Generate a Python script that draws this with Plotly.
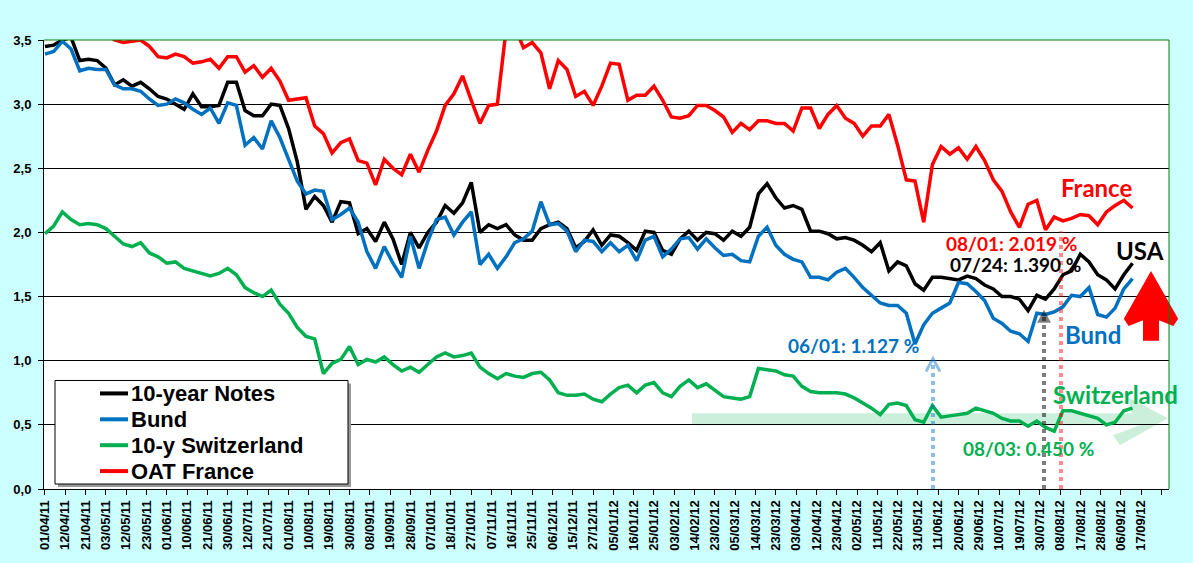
import pandas as pd
import plotly.graph_objects as go

# --- DATA (one value every 3 trading sessions) ---
START = "2011-04-01"
SKIPPED_DAYS = ["2011-04-22", "2011-07-04", "2011-12-26"]
STEP = 3

US_10Y = [
    3.45, 3.46, 3.50, 3.52, 3.34, 3.35, 3.34, 3.28, 3.15, 3.19, 3.14, 3.17,
    3.12, 3.06, 3.04, 3.00, 2.96, 3.08, 2.98, 2.98, 2.99, 3.17, 3.17, 2.95,
    2.91, 2.91, 3.00, 2.99, 2.81, 2.55, 2.18, 2.28, 2.21, 2.08,
    2.24, 2.23, 1.99, 2.03, 1.93, 2.08, 1.95, 1.75, 2.00, 1.88, 2.00, 2.08,
    2.21, 2.15, 2.23, 2.39, 2.00, 2.06, 2.03, 2.06, 1.98, 1.94, 1.94, 2.03,
    2.06, 2.08, 2.03, 1.88, 1.93, 2.02, 1.90, 1.98, 1.97,
    1.92, 1.86, 2.01, 2.00, 1.86, 1.83, 1.95, 2.01, 1.94, 2.00, 1.99, 1.94,
    2.01, 1.97, 2.04, 2.30, 2.38, 2.27, 2.19, 2.21, 2.18, 2.01, 2.01, 1.99,
    1.95, 1.96, 1.94, 1.90, 1.85, 1.92, 1.70, 1.77, 1.74,
    1.60, 1.55, 1.65, 1.65, 1.64, 1.63, 1.66, 1.64, 1.59, 1.56, 1.50, 1.50,
    1.48, 1.39, 1.51, 1.48, 1.56, 1.67, 1.70, 1.83, 1.77, 1.67, 1.63, 1.56,
    1.67, 1.76,
]
BUND = [
    3.39, 3.41, 3.49, 3.43, 3.26, 3.28, 3.27, 3.27, 3.15, 3.12, 3.12, 3.10,
    3.04, 2.99, 3.00, 3.04, 3.01, 2.96, 2.92, 2.97, 2.85, 3.01, 2.99, 2.68,
    2.74, 2.65, 2.87, 2.74, 2.57, 2.40, 2.30, 2.33, 2.32, 2.10,
    2.14, 2.19, 2.08, 1.85, 1.72, 1.89, 1.76, 1.65, 1.97, 1.72, 1.93, 2.10,
    2.12, 1.98, 2.08, 2.16, 1.75, 1.83, 1.72, 1.81, 1.92, 1.95, 2.01, 2.24,
    2.06, 2.07, 2.01, 1.85, 1.94, 1.93, 1.85, 1.92, 1.85,
    1.90, 1.78, 1.94, 1.97, 1.81, 1.87, 1.95, 1.96, 1.87, 1.95, 1.88, 1.82,
    1.83, 1.78, 1.77, 1.97, 2.04, 1.90, 1.83, 1.79, 1.77, 1.65, 1.65, 1.63,
    1.69, 1.72, 1.65, 1.57, 1.51, 1.45, 1.43, 1.43, 1.37,
    1.13, 1.28, 1.37, 1.41, 1.45, 1.61, 1.60, 1.54, 1.47, 1.33, 1.29, 1.23,
    1.21, 1.15, 1.37, 1.36, 1.38, 1.42, 1.51, 1.50, 1.57, 1.36, 1.34, 1.41,
    1.56, 1.64,
]
SWISS_10Y = [
    1.99, 2.05, 2.16, 2.10, 2.06, 2.07, 2.06, 2.03, 1.97, 1.91, 1.89, 1.92,
    1.84, 1.81, 1.76, 1.77, 1.72, 1.70, 1.68, 1.66, 1.68, 1.72, 1.67, 1.57,
    1.53, 1.50, 1.55, 1.44, 1.37, 1.26, 1.19, 1.17, 0.90, 0.98,
    1.01, 1.11, 0.97, 1.01, 0.99, 1.03, 0.97, 0.92, 0.95, 0.91, 0.97, 1.03,
    1.06, 1.03, 1.04, 1.06, 0.95, 0.90, 0.86, 0.90, 0.88, 0.87, 0.90, 0.91,
    0.85, 0.75, 0.73, 0.73, 0.74, 0.70, 0.68, 0.74, 0.79,
    0.81, 0.75, 0.81, 0.83, 0.75, 0.72, 0.80, 0.85, 0.79, 0.82, 0.77, 0.72,
    0.71, 0.70, 0.72, 0.94, 0.93, 0.92, 0.89, 0.88, 0.80, 0.76, 0.75, 0.75,
    0.75, 0.74, 0.71, 0.67, 0.63, 0.58, 0.66, 0.67, 0.65,
    0.54, 0.52, 0.65, 0.56, 0.57, 0.58, 0.59, 0.63, 0.61, 0.59, 0.55, 0.53,
    0.53, 0.49, 0.53, 0.48, 0.45, 0.61, 0.61, 0.59, 0.57, 0.55, 0.50, 0.52,
    0.61, 0.63,
]
OAT_FRANCE = [
    3.62, 3.66, 3.70, 3.66, 3.60, 3.62, 3.58, 3.55, 3.50, 3.48, 3.49, 3.50,
    3.45, 3.37, 3.36, 3.39, 3.37, 3.32, 3.33, 3.35, 3.28, 3.37, 3.37, 3.25,
    3.30, 3.21, 3.28, 3.18, 3.03, 3.04, 3.05, 2.83, 2.77, 2.62,
    2.70, 2.73, 2.56, 2.54, 2.37, 2.57, 2.50, 2.45, 2.61, 2.47, 2.64, 2.79,
    2.99, 3.08, 3.22, 3.03, 2.85, 2.99, 3.00, 3.58, 3.60, 3.44, 3.48, 3.40,
    3.12, 3.34, 3.27, 3.06, 3.10, 2.99, 3.14, 3.32, 3.31,
    3.03, 3.07, 3.07, 3.14, 3.03, 2.90, 2.89, 2.91, 2.99, 2.99, 2.95, 2.90,
    2.78, 2.85, 2.80, 2.87, 2.87, 2.85, 2.85, 2.79, 2.97, 2.97, 2.81, 2.92,
    2.99, 2.89, 2.85, 2.75, 2.83, 2.83, 2.92, 2.68, 2.41,
    2.40, 2.08, 2.53, 2.67, 2.61, 2.66, 2.57, 2.67, 2.56, 2.41, 2.32, 2.16,
    2.04, 2.22, 2.25, 2.02, 2.12, 2.09, 2.11, 2.14, 2.13, 2.06, 2.16, 2.21,
    2.25, 2.19,
]

TICK_LABELS = [
    "01/04/11", "12/04/11", "21/04/11", "03/05/11", "12/05/11", "23/05/11",
    "01/06/11", "10/06/11", "21/06/11", "30/06/11", "12/07/11", "21/07/11",
    "01/08/11", "10/08/11", "19/08/11", "30/08/11", "08/09/11", "19/09/11",
    "28/09/11", "07/10/11", "18/10/11", "27/10/11", "07/11/11", "16/11/11",
    "25/11/11", "06/12/11", "15/12/11", "27/12/11", "05/01/12", "16/01/12",
    "25/01/12", "03/02/12", "14/02/12", "23/02/12", "05/03/12", "14/03/12",
    "23/03/12", "03/04/12", "12/04/12", "23/04/12", "02/05/12", "11/05/12",
    "22/05/12", "31/05/12", "11/06/12", "20/06/12", "29/06/12", "10/07/12",
    "19/07/12", "30/07/12", "08/08/12", "17/08/12", "28/08/12", "06/09/12",
    "17/09/12",
]
LAST_TICK = "26/09/12"  # tick mark drawn without a label

SERIES = [
    ("10-year Notes", US_10Y, "#000000"),
    ("Bund", BUND, "#0070C0"),
    ("10-y Switzerland", SWISS_10Y, "#00B050"),
    ("OAT France", OAT_FRANCE, "#FF0000"),
]

# --- trading calendar (weekends + the few missing sessions) ---
cal = pd.bdate_range(start=START, end="2012-09-30", freq="C", holidays=SKIPPED_DAYS)
dates = cal[::STEP][:len(US_10Y)]

tick_vals = pd.to_datetime(TICK_LABELS + [LAST_TICK], format="%d/%m/%y")
tick_text = TICK_LABELS + [""]

# plot area in page pixels, used to place the decorations
L, R, T, B = 44, 1169, 40, 491


def px(x):
    return (x - L) / (R - L)


def py(y):
    return (B - y) / (B - T)


def path(points, close=True):
    d = "M " + " L ".join(f"{px(a):.5f},{py(b):.5f}" for a, b in points)
    return d + " Z" if close else d


fig = go.Figure()
for name, vals, color in SERIES:
    fig.add_trace(go.Scatter(x=dates, y=vals, name=name, mode="lines",
                             line=dict(color=color, width=3.5), showlegend=False))

ann_font = "Lato, Open Sans, sans-serif"
labels = [
    ("France", 1096, 188, "#FF0000", 24),
    ("USA", 1140, 251, "#000000", 24),
    ("Bund", 1093, 336, "#0070C0", 24),
    ("Switzerland", 1115, 396, "#00B050", 24),
    ("08/01: 2.019 %", 1011, 244, "#FF0000", 19),
    ("07/24: 1.390 %", 1015, 265, "#000000", 19),
    ("06/01: 1.127 %", 853, 347, "#0070C0", 19),
    ("08/03: 0.450 %", 1028, 450, "#00B050", 19),
]
for text, x, y, color, size in labels:
    fig.add_annotation(text=text, xref="paper", yref="paper", x=px(x), y=py(y),
                       xanchor="center", yanchor="middle", showarrow=False,
                       font=dict(family=ann_font, size=size, color=color, weight="bold"))

shapes = []
# pale green trend arrow under the Swiss yield
shapes.append(dict(type="path", xref="paper", yref="paper", layer="below",
                   path=path([(692, 415), (1132, 415), (1127, 398), (1168, 420),
                              (1120, 447), (1113, 437), (1140, 427), (692, 427)]),
                   fillcolor="rgba(0,176,80,0.2)", line=dict(width=0)))
# dotted markers
for x, ytop, color in [(933, 362, "rgba(0,112,192,0.45)"),
                       (1044, 318, "rgba(0,0,0,0.5)"),
                       (1061, 232, "rgba(255,0,0,0.45)")]:
    shapes.append(dict(type="line", xref="paper", yref="paper", layer="above",
                       x0=px(x), x1=px(x), y0=py(B), y1=py(ytop),
                       line=dict(color=color, width=4, dash="dot")))
shapes.append(dict(type="path", xref="paper", yref="paper", layer="above",
                   path=path([(926, 373), (933, 360), (940, 373)], close=False),
                   line=dict(color="rgba(0,112,192,0.45)", width=3)))
shapes.append(dict(type="path", xref="paper", yref="paper", layer="above",
                   path=path([(1037, 324), (1044, 311), (1051, 324)]),
                   fillcolor="rgba(0,0,0,0.5)", line=dict(width=0)))
# big red arrow
shapes.append(dict(type="path", xref="paper", yref="paper", layer="above",
                   path=path([(1151, 274), (1177, 320), (1173, 326), (1158, 320),
                              (1158, 341), (1144, 341), (1144, 320), (1129, 326),
                              (1125, 320)]),
                   fillcolor="#FF0000", line=dict(color="#FF0000", width=2)))
# legend box with shadow
shapes.append(dict(type="rect", xref="paper", yref="paper", layer="above",
                   x0=px(58), x1=px(351), y0=py(489), y1=py(385),
                   fillcolor="#9a9a9a", line=dict(width=0)))
shapes.append(dict(type="rect", xref="paper", yref="paper", layer="above",
                   x0=px(55), x1=px(348), y0=py(486), y1=py(382),
                   fillcolor="white", line=dict(color="black", width=1)))
# legend entries
for i, (name, vals, color) in enumerate(SERIES):
    y = 395 + 26 * i
    shapes.append(dict(type="line", xref="paper", yref="paper", layer="above",
                       x0=px(100), x1=px(128), y0=py(y), y1=py(y),
                       line=dict(color=color, width=4)))
    fig.add_annotation(text=name, xref="paper", yref="paper", x=px(129), y=py(y),
                       xanchor="left", yanchor="middle", showarrow=False,
                       font=dict(family="Liberation Sans, Arial", size=22,
                                 color="black", weight="bold"))
# green frame on top and right
shapes.append(dict(type="line", xref="paper", yref="paper", x0=0, x1=1, y0=1, y1=1,
                   line=dict(color="#008000", width=1)))
shapes.append(dict(type="line", xref="paper", yref="paper", x0=1, x1=1, y0=0, y1=1,
                   line=dict(color="#008000", width=1)))

tick_font = dict(family="Liberation Sans, Arial", size=13, color="black", weight="bold")

fig.update_layout(
    width=1193, height=563,
    margin=dict(l=L, r=1193 - R, t=T, b=563 - B),
    paper_bgcolor="#CCFFFF",
    plot_bgcolor="white",
    separators=",.",
    shapes=shapes,
    showlegend=False,
    xaxis=dict(
        range=["2011-03-31 16:00", "2012-09-28 14:00"],
        rangebreaks=[dict(bounds=["sat", "mon"]), dict(values=SKIPPED_DAYS)],
        tickmode="array", tickvals=tick_vals, ticktext=tick_text,
        tickangle=-90, tickfont=tick_font,
        showgrid=False, showline=True, linecolor="black", linewidth=1,
        ticks="outside", ticklen=5, tickcolor="black",
    ),
    yaxis=dict(
        range=[0, 3.5], dtick=0.5, tick0=0, tickformat=".1f",
        tickfont=tick_font, ticklabelstandoff=4,
        showgrid=True, gridcolor="black", gridwidth=1, zeroline=False,
        showline=True, linecolor="black", linewidth=1,
        ticks="outside", ticklen=5, tickcolor="black",
    ),
)

# drop the browser's default 8px page margin so the figure fills the window
fig.write_html("out.html", config={"displayModeBar": False},
               post_script="document.body.style.margin = '0px';")
